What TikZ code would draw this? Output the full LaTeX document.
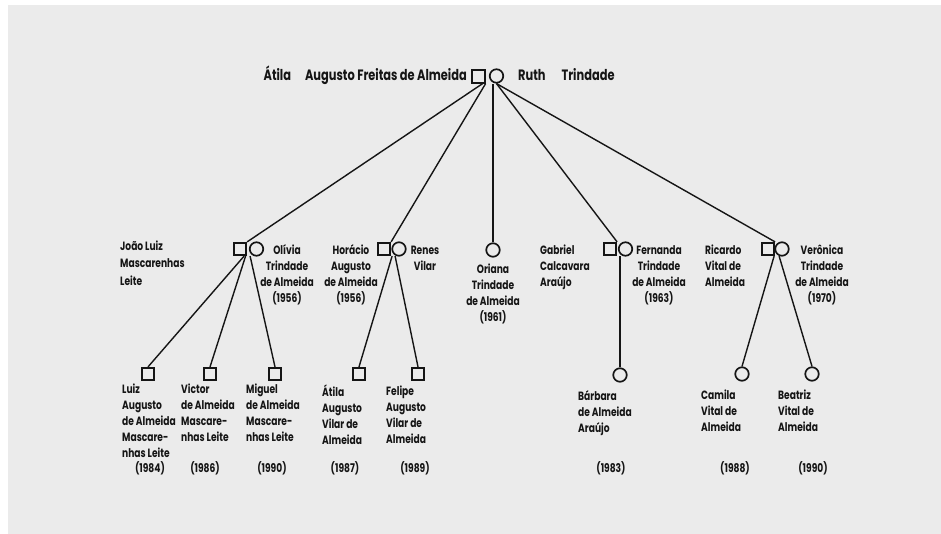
\documentclass[tikz,border=0pt]{standalone}
\usepackage{fontspec}
\setmainfont{Poppins}
\newfontfamily\hand[FakeStretch=0.76]{Poppins}
\definecolor{ink}{HTML}{151515}
\definecolor{paper}{HTML}{EBEBEB}
\newcommand\fl{\rule{0pt}{10pt}}
\begin{document}
\begin{tikzpicture}[x=1pt,y=-1pt,
  male/.style={draw=ink, rectangle, minimum width=12.5pt, minimum height=12.5pt, inner sep=0pt, line width=1.7pt},
  female/.style={draw=ink, circle, minimum size=13.5pt, inner sep=0pt, line width=1.7pt},
  lbl/.style={font=\hand\bfseries\fontsize{12}{16}\selectfont, text=ink, inner sep=0pt},
  toplbl/.style={font=\hand\bfseries\fontsize{15}{16}\selectfont, text=ink, inner sep=0pt},
  link/.style={draw=ink, line width=1.4pt}]
\useasboundingbox (0,0) rectangle (941,534);
\fill[white] (0,0) rectangle (941,534);
\fill[paper] (8,5) rectangle (941,534);

% generation 1
\node[male] (atila) at (478.5,76.5) {};
\node[female] (ruth) at (496.5,76) {};
\node[toplbl, anchor=base east] (atilaL) at (467,81) {Átila\hspace{14pt}Augusto Freitas de Almeida};
\node[toplbl, anchor=base west] (ruthL) at (518,81) {Ruth\hspace{16pt}Trindade};

% generation 2
\node[male] (joao) at (240,249) {};
\node[female] (olivia) at (256.5,249) {};
\node[male] (horacio) at (384,249) {};
\node[female] (renes) at (399,249) {};
\node[female] (oriana) at (493,250) {};
\node[male] (gabriel) at (610,249) {};
\node[female] (fernanda) at (625.5,249) {};
\node[male] (ricardo) at (768,249) {};
\node[female] (veronica) at (782,249) {};

\node[lbl, anchor=north west, align=left] (joaoL) at (120,240) {\fl João Luiz\\[1.5pt]Mascarenhas\\[1.5pt]Leite};
\node[lbl, anchor=north, align=center] (oliviaL) at (287,244) {\fl Olívia\\Trindade\\de Almeida\\(1956)};
\node[lbl, anchor=north, align=center] (horacioL) at (351,244) {\fl Horácio\\Augusto\\de Almeida\\(1956)};
\node[lbl, anchor=north, align=center] (renesL) at (425,244) {\fl Renes\\Vilar};
\node[lbl, anchor=north, align=center] (orianaL) at (493,263) {\fl Oriana\\Trindade\\de Almeida\\(1961)};
\node[lbl, anchor=north west, align=left] (gabrielL) at (540,244) {\fl Gabriel\\Calcavara\\Araújo};
\node[lbl, anchor=north, align=center] (fernandaL) at (659,244) {\fl Fernanda\\Trindade\\de Almeida\\(1963)};
\node[lbl, anchor=north west, align=left] (ricardoL) at (705,244) {\fl Ricardo\\Vital de\\Almeida};
\node[lbl, anchor=north, align=center] (veronicaL) at (822,244) {\fl Verônica\\Trindade\\de Almeida\\(1970)};

% generation 3
\node[male] (luiz) at (148,374) {};
\node[male] (victor) at (210,374) {};
\node[male] (miguel) at (275,374) {};
\node[male] (atila2) at (359,374) {};
\node[male] (felipe) at (418,374) {};
\node[female] (barbara) at (620,375) {};
\node[female] (camila) at (742,374) {};
\node[female] (beatriz) at (812,374) {};

\node[lbl, anchor=north west, align=left] (luizL) at (122,383) {\fl Luiz\\Augusto\\de Almeida\\Mascare-\\nhas Leite};
\node[lbl, anchor=north west, align=left] (victorL) at (181,383) {\fl Victor\\de Almeida\\Mascare-\\nhas Leite};
\node[lbl, anchor=north west, align=left] (miguelL) at (246,383) {\fl Miguel\\de Almeida\\Mascare-\\nhas Leite};
\node[lbl, anchor=north west, align=left] (atila2L) at (322,385) {\fl Átila\\Augusto\\Vilar de\\Almeida};
\node[lbl, anchor=north west, align=left] (felipeL) at (386,385) {\fl Felipe\\Augusto\\Vilar de\\Almeida};
\node[lbl, anchor=north west, align=left] (barbaraL) at (578,390) {\fl Bárbara\\de Almeida\\Araújo};
\node[lbl, anchor=north west, align=left] (camilaL) at (701,389) {\fl Camila\\Vital de\\Almeida};
\node[lbl, anchor=north west, align=left] (beatrizL) at (778,389) {\fl Beatriz\\Vital de\\Almeida};

\node[lbl, anchor=base] (y1) at (150,472) {(1984)};
\node[lbl, anchor=base] (y2) at (205,472) {(1986)};
\node[lbl, anchor=base] (y3) at (272,472) {(1990)};
\node[lbl, anchor=base] (y4) at (345,472) {(1987)};
\node[lbl, anchor=base] (y5) at (415,472) {(1989)};
\node[lbl, anchor=base] (y6) at (611,472) {(1983)};
\node[lbl, anchor=base] (y7) at (735,472) {(1988)};
\node[lbl, anchor=base] (y8) at (813,472) {(1990)};

% connectors generation 1 -> 2
\draw[link] ([xshift=-3pt]atila.south east) -- (joao.north east);
\draw[link] (atila.south east) -- (horacio.north east);
\draw[link] (oriana.north) -- (oriana.north |- atila.south);
\draw[link] (ruth.south) -- (gabriel.north east);
\draw[link] (ruth.south) -- (ricardo.north east);

% connectors generation 2 -> 3
\draw[link] ([xshift=-3pt]joao.south east) -- (luiz.north);
\draw[link] ([xshift=-1.5pt]joao.south east) -- (victor.north);
\draw[link] ([xshift=3pt]joao.south east) -- (miguel.north);
\draw[link] ([xshift=1pt]horacio.south east) -- (atila2.north);
\draw[link] ([xshift=4pt]horacio.south east) -- (felipe.north);
\draw[link] (barbara.north) -- (barbara.north |- gabriel.south);
\draw[link] ([xshift=-1pt]ricardo.south east) -- (camila.north);
\draw[link] ([xshift=4pt]ricardo.south east) -- (beatriz.north);
\end{tikzpicture}
\end{document}
